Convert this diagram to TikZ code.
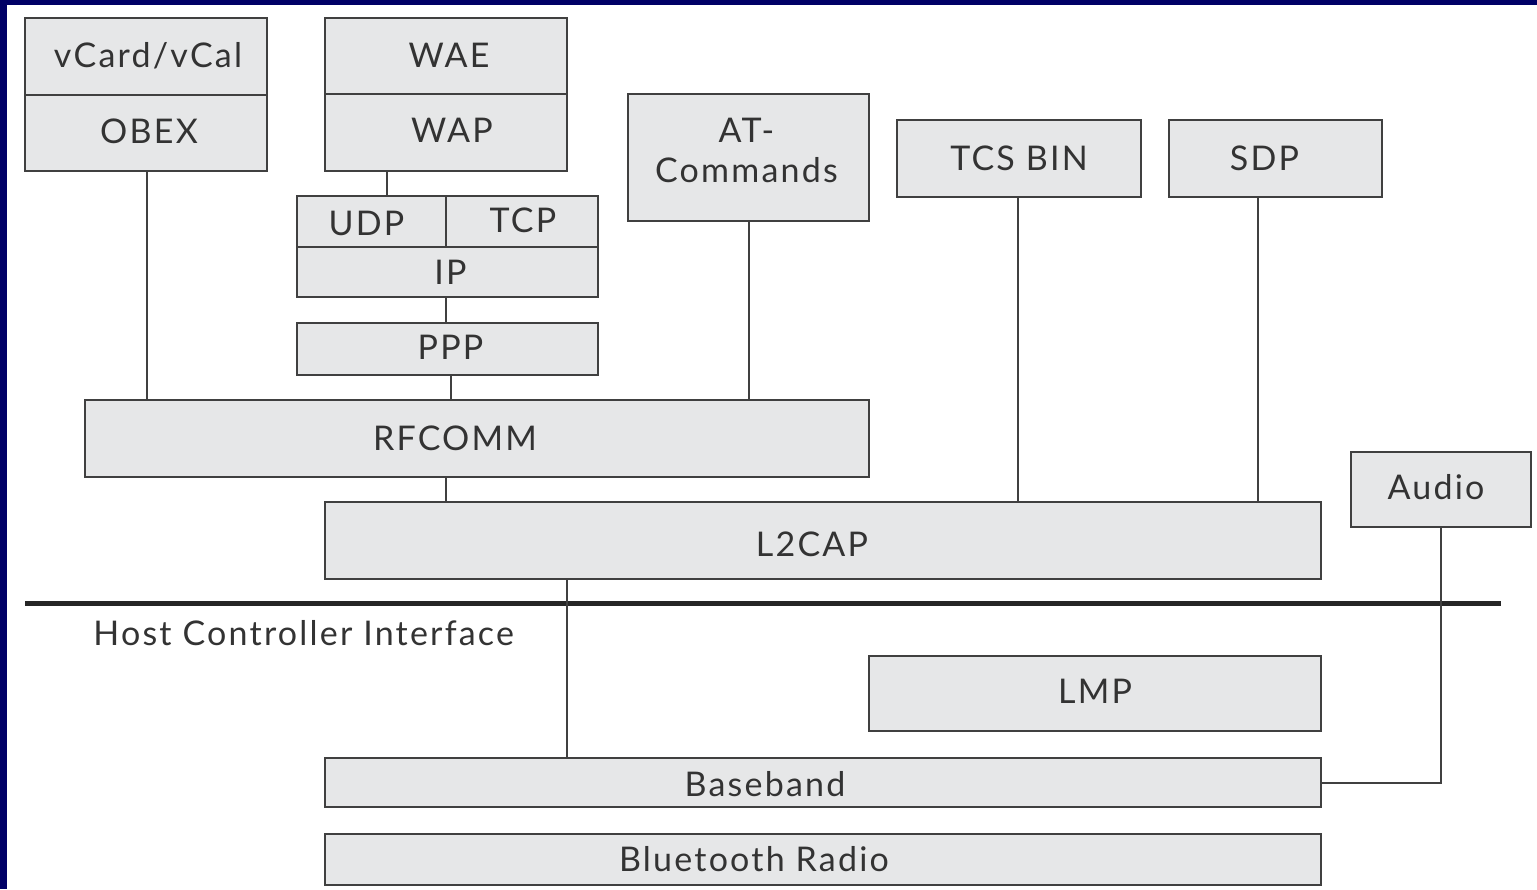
\documentclass[tikz,border=0pt]{standalone}
\usepackage{fontspec}
\setmainfont{Lato}[LetterSpace=6.5]
\usetikzlibrary{calc}
\definecolor{navy}{HTML}{000066}
\definecolor{boxfill}{HTML}{E6E7E8}
\definecolor{boxline}{HTML}{404040}
\definecolor{txt}{HTML}{333333}
\tikzset{
  box/.style={draw=boxline, fill=boxfill, line width=1pt, inner sep=0pt},
  conn/.style={draw=boxline, line width=1pt},
  hciline/.style={draw=black!85, line width=2.5pt},
  lbl/.style={font=\fontsize{17}{20}\selectfont, text=txt, inner sep=0pt, align=center}
}
% name, x1, y1, x2, y2, text, dx, dy (text offset from box centre)
\newcommand\pbox[8]{%
  \node[box, minimum width={(#4-#2)*0.5pt}, minimum height={(#5-#3)*0.5pt}]
    (#1) at ({(#2+#4)/2},{(#3+#5)/2}) {};
  \node[lbl] (#1-t) at ($(#1.center)+(#7,#8)$) {#6};}
\begin{document}
\begin{tikzpicture}[x=0.5pt,y=-0.5pt]
\fill[navy] (0,0) rectangle (1537,889);
\fill[white] (7,5) rectangle (1537,889);
\useasboundingbox (0,0) rectangle (1537,889);

\pbox{vcard}{25}{18}{267}{95}{vCard/vCal}{2}{-1}
\pbox{obex}{25}{95}{267}{171}{OBEX}{3}{-2}
\pbox{wae}{325}{18}{567}{94}{WAE}{3}{-1}
\pbox{wap}{325}{94}{567}{171}{WAP}{6}{-2}
\pbox{udp}{297}{196}{446}{247}{UDP}{-5}{2}
\pbox{tcp}{446}{196}{598}{247}{TCP}{1}{-1}
\pbox{ip}{297}{247}{598}{297}{IP}{3}{0}
\pbox{ppp}{297}{323}{598}{375}{PPP}{3}{-2}
\pbox{at}{628}{94}{869}{221}{AT-\\Commands}{-2}{-7}
\pbox{tcs}{897}{120}{1141}{197}{TCS BIN}{0}{0}
\pbox{sdp}{1169}{120}{1382}{197}{SDP}{-11}{0}
\pbox{rfcomm}{85}{400}{869}{477}{RFCOMM}{-22}{0}
\pbox{l2cap}{325}{502}{1321}{579}{L2CAP}{-11}{4}
\pbox{audio}{1351}{452}{1531}{527}{Audio}{-5}{-2}
\pbox{lmp}{869}{656}{1321}{731}{LMP}{0}{-2}
\pbox{baseband}{325}{758}{1321}{807}{Baseband}{-58}{2}
\pbox{radio}{325}{834}{1321}{885}{Bluetooth Radio}{-69}{0}

\coordinate (hciA) at (25,603);
\coordinate (hciB) at (1501,603);
\draw[hciline] (hciA) -- (hciB);
\node[lbl, anchor=west] (hcilbl) at (93,633) {Host Controller Interface};

\draw[conn] (obex.south -| 147,0) -- (rfcomm.north -| 147,0);
\draw[conn] (wap.south -| 387,0) -- (udp.north -| 387,0);
\draw[conn] (ip.south -| 446,0) -- (ppp.north -| 446,0);
\draw[conn] (ppp.south -| 451,0) -- (rfcomm.north -| 451,0);
\draw[conn] (at.south -| 749,0) -- (rfcomm.north -| 749,0);
\draw[conn] (rfcomm.south -| 446,0) -- (l2cap.north -| 446,0);
\draw[conn] (tcs.south -| 1018,0) -- (l2cap.north -| 1018,0);
\draw[conn] (sdp.south -| 1258,0) -- (l2cap.north -| 1258,0);
\draw[conn] (l2cap.south -| 567,0) -- (baseband.north -| 567,0);
\draw[conn] (audio.south) |- (baseband.east);
\end{tikzpicture}
\end{document}
